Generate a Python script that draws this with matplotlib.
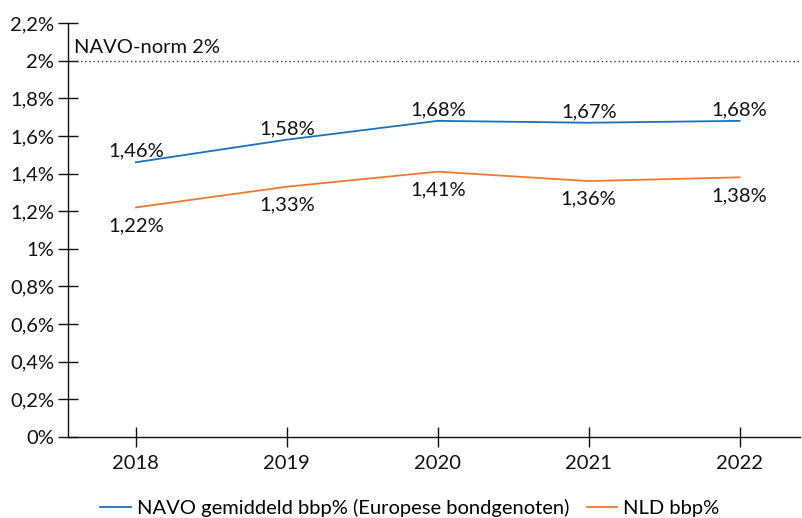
import matplotlib
matplotlib.use("Agg")
import matplotlib.pyplot as plt
from matplotlib.ticker import FixedLocator

plt.rcParams['font.family'] = ['Lato', 'DejaVu Sans']

years = ["2018", "2019", "2020", "2021", "2022"]
navo = [1.46, 1.58, 1.68, 1.67, 1.68]
nld = [1.22, 1.33, 1.41, 1.36, 1.38]
yticks = [0, 0.2, 0.4, 0.6, 0.8, 1.0, 1.2, 1.4, 1.6, 1.8, 2.0, 2.2]
norm = 2.0

def fmt(v):
    s = ("%.2f" % v).rstrip('0').rstrip('.')
    return s.replace('.', ',') + '%'

FS = 14.5
fig = plt.figure(figsize=(8.03, 5.18), dpi=100)
ax = fig.add_axes([68/803, 1-437/518, (800-68)/803, (437-23)/518])

x = list(range(len(years)))
blue = '#1a72bd'
orange = '#f2792c'
l1, = ax.plot(x, navo, color=blue, lw=1.3, label='NAVO gemiddeld bbp% (Europese bondgenoten)')
l2, = ax.plot(x, nld, color=orange, lw=1.3, label='NLD bbp%')

for xi, v in zip(x, navo):
    ax.annotate(fmt(v), (xi, v), xytext=(0, 2), textcoords='offset points',
                ha='center', va='bottom', fontsize=FS, color='#111111')
for xi, v in zip(x, nld):
    ax.annotate(fmt(v), (xi, v), xytext=(0, -7), textcoords='offset points',
                ha='center', va='top', fontsize=FS, color='#111111')

ax.axhline(norm, color='#333333', lw=1, ls=(0, (1, 2)))
ax.text(-0.41, norm + 0.025, 'NAVO-norm 2%', ha='left', va='bottom', fontsize=FS, color='#111111')

ax.set_xlim(-0.45, 4.4)
ax.set_ylim(0, 2.2)
ax.set_xticks(x)
ax.set_xticklabels(years)
ax.yaxis.set_major_locator(FixedLocator(yticks))
ax.set_yticklabels([fmt(v) for v in yticks])
ax.tick_params(axis='both', direction='inout', length=14, width=1, colors='#111111', labelsize=FS)
ax.tick_params(axis='y', pad=3)
ax.tick_params(axis='x', pad=6)
for s in ['top', 'right']:
    ax.spines[s].set_visible(False)
for s in ['left', 'bottom']:
    ax.spines[s].set_color('#111111')
    ax.spines[s].set_linewidth(1)

fig.legend(handles=[l1, l2], loc='center', bbox_to_anchor=(410/803, 1-508/518),
           ncol=2, frameon=False, fontsize=FS, handlelength=1.5, columnspacing=0.9,
           handletextpad=0.3)

fig.savefig('out.png', dpi=100)
